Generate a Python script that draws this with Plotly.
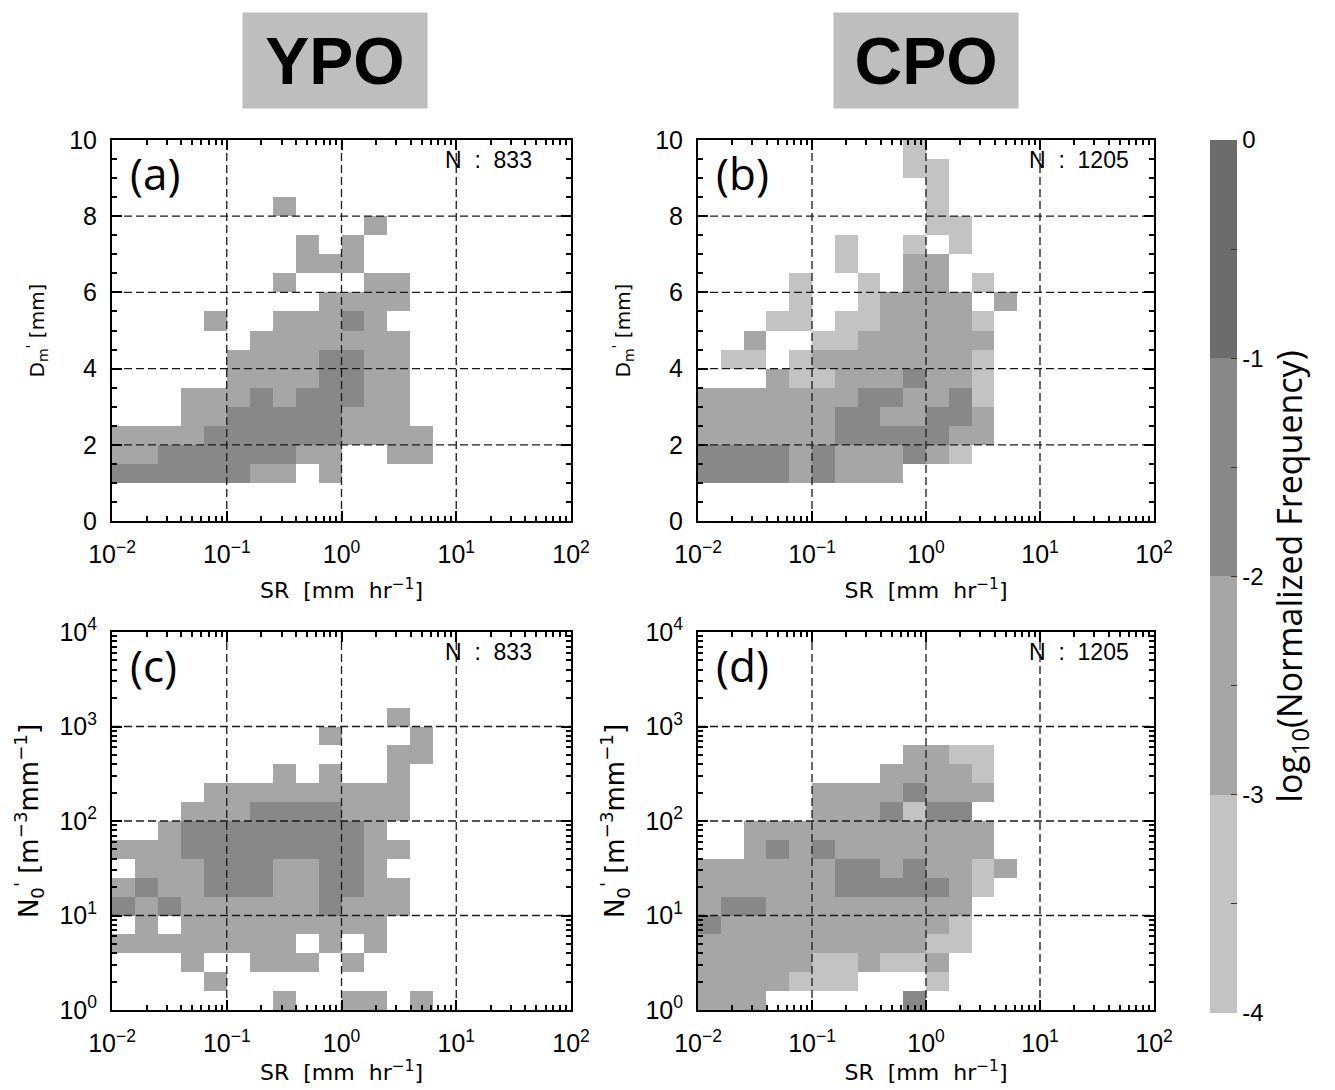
import plotly.graph_objects as go

# ---------------- data ----------------
# bin edges (log10 of SR [mm/hr]); D_m' bins [mm]; log10 of N_0' bins
SR_EDGE_EXP = [-2.0, -1.8, -1.6, -1.4, -1.2, -1.0, -0.8, -0.6, -0.4, -0.2, 0.0,
               0.2, 0.4, 0.6, 0.8, 1.0, 1.2, 1.4, 1.6, 1.8, 2.0]
DM_EDGES = [0.0, 0.5, 1.0, 1.5, 2.0, 2.5, 3.0, 3.5, 4.0, 4.5, 5.0,
            5.5, 6.0, 6.5, 7.0, 7.5, 8.0, 8.5, 9.0, 9.5, 10.0]
N0_EDGE_EXP = [0.0, 0.2, 0.4, 0.6, 0.8, 1.0, 1.2, 1.4, 1.6, 1.8, 2.0,
               2.2, 2.4, 2.6, 2.8, 3.0, 3.2, 3.4, 3.6, 3.8, 4.0]

# frequency class of each cell -> log10(normalized frequency) (class centre)
LEVELS = {"1": -3.5, "2": -2.5, "3": -1.5, "4": -0.5}

# rows listed from the TOP bin down to the bottom bin; 20 SR columns each
YPO_DM = [
    "....................",
    "....................",
    "....................",
    ".......2............",
    "...........2........",
    "........2.2.........",
    "........222.........",
    ".......2...22.......",
    ".........2222.......",
    "....2..22232........",
    "......2222222.......",
    ".....22223322.......",
    ".....22223322.......",
    "...2223233322.......",
    "...2233333222.......",
    "22223333332222......",
    "2233333322..22......",
    "33333322.2..........",
    "....................",
    "....................",
]
CPO_DM = [
    ".........1..........",
    ".........11.........",
    "..........1.........",
    "..........1.........",
    "..........11........",
    "......1..1.1........",
    "......1..22.........",
    "....1..1.22.1.......",
    "....1..12222.2......",
    "...11.1122221.......",
    "..2..11222222.......",
    ".11.122222221.......",
    "...2112223221.......",
    "2222222332231.......",
    "2222223322332.......",
    "2222223333322.......",
    "333323222321........",
    "333323222...........",
    "....................",
    "....................",
]
YPO_N0 = [
    "....................",
    "....................",
    "....................",
    "....................",
    "............2.......",
    ".........2...2......",
    "............22......",
    ".......2.2..2.......",
    "....222222222.......",
    "...2223333222.......",
    "..2333333332........",
    "2223333333322.......",
    ".22233322332........",
    "2322333223322.......",
    "3232222223222.......",
    ".2.222222222........",
    "22222222.2.2........",
    "...2..222.2.........",
    "....2...............",
    ".......2..22.2......",
]
CPO_N0 = [
    "....................",
    "....................",
    "....................",
    "....................",
    "....................",
    "....................",
    ".........2211.......",
    "........22221.......",
    ".....22223222.......",
    ".....2223133........",
    "..22222222222.......",
    "..23232222222.......",
    "22222233232212......",
    "2222223333321.......",
    "233222222222........",
    "322222222221........",
    "222222222211........",
    "22222112112.........",
    "2222111...1.........",
    "222......3..........",
]
N_COUNTS = {"YPO": 833, "CPO": 1205}

SR_TICKS = [0.01, 0.1, 1, 10, 100]
SR_TICKTEXT = ["10<sup>\u22122</sup>", "10<sup>\u22121</sup>", "10<sup>0</sup>",
               "10<sup>1</sup>", "10<sup>2</sup>"]
SR_MINOR = [m * 10.0 ** d for d in (-2, -1, 0, 1) for m in range(2, 10)]
DM_TICKS = [0, 2, 4, 6, 8, 10]
N0_TICKS = [1, 10, 100, 1000, 10000]
N0_TICKTEXT = ["10<sup>0</sup>", "10<sup>1</sup>", "10<sup>2</sup>",
               "10<sup>3</sup>", "10<sup>4</sup>"]
N0_MINOR = [m * 10.0 ** d for d in (0, 1, 2, 3) for m in range(2, 10)]
CB_TICKS = [0, -0.5, -1, -1.5, -2, -2.5, -3, -3.5, -4]
CB_TICKTEXT = ["0", "", "-1", "", "-2", "", "-3", "", "-4"]

GRAYS = ["#c3c3c3", "#a6a6a6", "#888888", "#6c6c6c"]
FONT = "Liberation Sans"
TFONT = "DejaVu Sans"

# ---------------- figure ----------------
W, H = 1335, 1090
OFF = 8  # page offset of the plot div


def xdom(l, r):
    return [(l - OFF) / W, (r - OFF) / W]


def ydom(top, bottom):
    return [1 - (bottom - OFF) / H, 1 - (top - OFF) / H]


def to_z(rows):
    return [[LEVELS.get(c) for c in row] for row in reversed(rows)]


panels = [
    dict(key="", rows=YPO_DM, yedges=DM_EDGES, ylog=False, lab="(a)", n=N_COUNTS["YPO"],
         xd=xdom(112, 571), yd=ydom(140, 521), xstand=16),
    dict(key="2", rows=CPO_DM, yedges=DM_EDGES, ylog=False, lab="(b)", n=N_COUNTS["CPO"],
         xd=xdom(698, 1154), yd=ydom(140, 521), xstand=16),
    dict(key="3", rows=YPO_N0, yedges=[10 ** e for e in N0_EDGE_EXP], ylog=True, lab="(c)",
         n=N_COUNTS["YPO"], xd=xdom(112, 571), yd=ydom(632, 1010), xstand=9),
    dict(key="4", rows=CPO_N0, yedges=[10 ** e for e in N0_EDGE_EXP], ylog=True, lab="(d)",
         n=N_COUNTS["CPO"], xd=xdom(698, 1154), yd=ydom(632, 1010), xstand=9),
]

sr_edges = [10 ** e for e in SR_EDGE_EXP]
fig = go.Figure()
annotations = []

tickfont = dict(family=FONT, size=25, color="black")
NB = "\u00a0"

for p in panels:
    k = p["key"]
    xref, yref = "x" + k, "y" + k
    fig.add_trace(go.Heatmap(
        x=sr_edges, y=p["yedges"], z=to_z(p["rows"]), coloraxis="coloraxis",
        xaxis=xref, yaxis=yref, hoverinfo="skip", xgap=0, ygap=0))
    # dashed grid lines at inner major ticks (drawn on top of the cells)
    yt = N0_TICKS if p["ylog"] else DM_TICKS
    gx, gy = [], []
    for v in SR_TICKS[1:-1]:
        gx += [v, v, None]
        gy += [yt[0], yt[-1], None]
    for v in yt[1:-1]:
        gx += [SR_TICKS[0], SR_TICKS[-1], None]
        gy += [v, v, None]
    fig.add_trace(go.Scatter(x=gx, y=gy, mode="lines", xaxis=xref, yaxis=yref,
                             line=dict(color="#1a1a1a", width=1.3, dash="8px,4px"),
                             hoverinfo="skip", showlegend=False))

    xa = dict(domain=p["xd"], anchor=yref, type="log", range=[-2, 2],
              tickmode="array", tickvals=SR_TICKS, ticktext=SR_TICKTEXT,
              ticks="inside", ticklen=10, tickwidth=1.5, tickcolor="black",
              showline=True, linewidth=2, linecolor="black", mirror="ticks",
              showgrid=False, zeroline=False, tickfont=tickfont, ticklabelstandoff=10,
              minor=dict(tickmode="array", tickvals=SR_MINOR, ticks="inside", ticklen=5,
                         tickwidth=1.5, tickcolor="black", showgrid=False),
              title=dict(text="SR" + NB + NB + "[mm" + NB + NB + "hr<sup>\u22121</sup>]",
                         font=dict(family=TFONT, size=22, color="black"),
                         standoff=p["xstand"]))
    if p["ylog"]:
        ya = dict(domain=p["yd"], anchor=xref, type="log", range=[0, 4],
                  tickmode="array", tickvals=N0_TICKS, ticktext=N0_TICKTEXT,
                  minor=dict(tickmode="array", tickvals=N0_MINOR, ticks="inside", ticklen=5,
                             tickwidth=1.5, tickcolor="black", showgrid=False),
                  title=dict(text="N<sub>0</sub><sup>'</sup> [m<sup>\u22123</sup>mm<sup>\u22121</sup>]",
                             font=dict(family=TFONT, size=26, color="black"), standoff=13))
    else:
        ya = dict(domain=p["yd"], anchor=xref, range=[0, 10],
                  tickmode="array", tickvals=DM_TICKS,
                  minor=dict(tickmode="linear", tick0=0, dtick=0.5, ticks="inside", ticklen=5,
                             tickwidth=1.5, tickcolor="black", showgrid=False),
                  title=dict(text="D<sub>m</sub><sup>'</sup> [mm]",
                             font=dict(family=TFONT, size=20, color="black"), standoff=19))
    ya.update(ticks="inside", ticklen=10, tickwidth=1.5, tickcolor="black",
              showline=True, linewidth=2, linecolor="black", mirror="ticks",
              showgrid=False, zeroline=False, tickfont=tickfont, ticklabelstandoff=8)
    fig.update_layout(**{"xaxis" + k: xa, "yaxis" + k: ya})

    annotations.append(dict(text=p["lab"], xref=xref + " domain", yref=yref + " domain",
                            x=0.035, y=0.913, xanchor="left", yanchor="middle", showarrow=False,
                            font=dict(family="Open Sans", size=44, color="black")))
    annotations.append(dict(text="N" + NB + NB + ":" + NB + NB + str(p["n"]),
                            xref=xref + " domain", yref=yref + " domain",
                            x=0.721, y=0.948, xanchor="left", yanchor="middle", showarrow=False,
                            font=dict(family=FONT, size=23, color="black")))

for name, cx in (("YPO", 335), ("CPO", 926)):
    annotations.append(dict(text="<b>" + name + "</b>", xref="paper", yref="paper",
                            x=(cx - OFF) / W, y=1 - (60.5 - OFF) / H, xanchor="center",
                            yanchor="middle", showarrow=False, bgcolor="#bebebe",
                            width=184, height=95, borderpad=0,
                            font=dict(family=FONT, size=66, color="black")))

fig.update_layout(
    width=W, height=H, autosize=False,
    margin=dict(l=0, r=0, t=0, b=0, autoexpand=False),
    paper_bgcolor="white", plot_bgcolor="white", showlegend=False,
    annotations=annotations,
    coloraxis=dict(
        cmin=-4, cmax=0,
        colorscale=[[0.0, GRAYS[0]], [0.25, GRAYS[0]], [0.25, GRAYS[1]], [0.5, GRAYS[1]],
                    [0.5, GRAYS[2]], [0.75, GRAYS[2]], [0.75, GRAYS[3]], [1.0, GRAYS[3]]],
        colorbar=dict(x=(1210 - OFF) / W, xanchor="left", y=1 - (140 - OFF) / H, yanchor="top",
                      len=873 / H, lenmode="fraction", thickness=27, thicknessmode="pixels",
                      xpad=0, ypad=0, outlinewidth=0,
                      tickmode="array", tickvals=CB_TICKS, ticktext=CB_TICKTEXT,
                      ticks="inside", ticklen=6, tickwidth=1.2, tickcolor="#333333",
                      tickfont=dict(family=FONT, size=24, color="black"),
                      title=dict(text="log<sub>10</sub>(Normalized Frequency)", side="right",
                                 font=dict(family="Open Sans", size=34, color="black"))),
    ),
)

fig.write_html("out.html")
